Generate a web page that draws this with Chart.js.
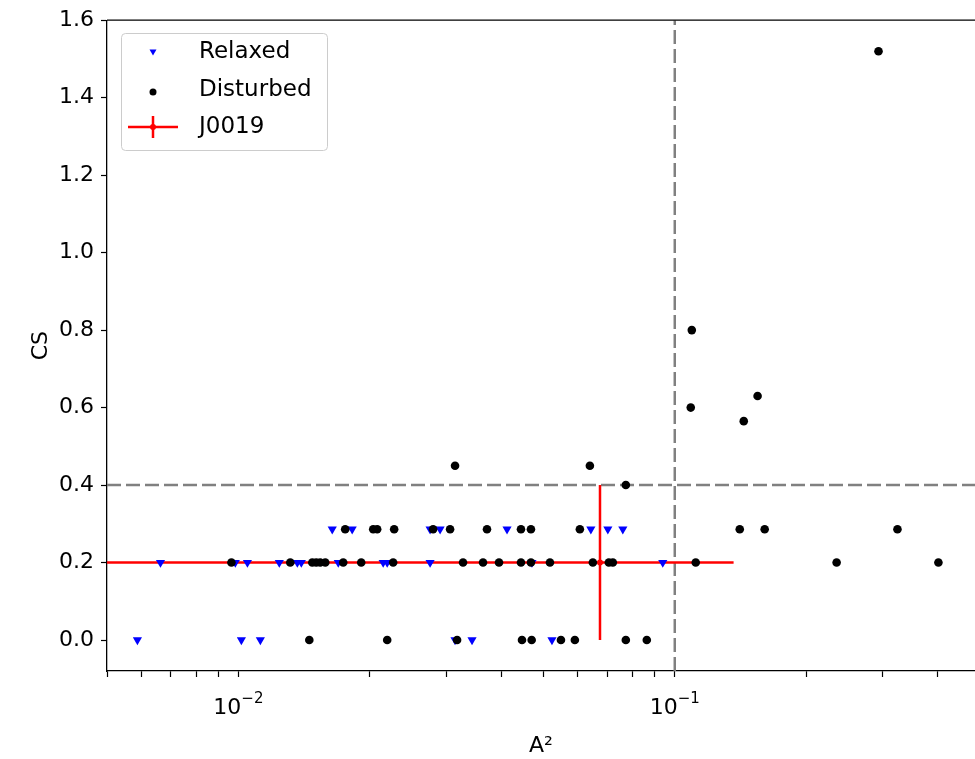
<!DOCTYPE html>
<html>
<head>
<meta charset="utf-8">
<script src="https://cdn.jsdelivr.net/npm/chart.js@4.4.1/dist/chart.umd.min.js"></script>
<style>
  html, body { margin: 0; padding: 0; background: #fff; overflow: hidden; }
  #wrap { width: 975px; height: 759px; }
</style>
</head>
<body>
<div id="wrap"><canvas id="c" width="975" height="759"></canvas></div>
<script>
// Relaxed clusters (blue down-triangles), grouped by CS row
const RELAXED_X = [
  0.00587, 0.01016, 0.01123, 0.03137, 0.03431, 0.05231,
  0.00663, 0.00984, 0.01049, 0.01241, 0.01365, 0.01394, 0.01694, 0.02147, 0.02193, 0.0275, 0.04707, 0.09387,
  0.01641, 0.01823, 0.0275, 0.02899, 0.04127, 0.06423, 0.07025, 0.07603
];
const RELAXED_Y = [
  0, 0, 0, 0, 0, 0,
  0.2, 0.2, 0.2, 0.2, 0.2, 0.2, 0.2, 0.2, 0.2, 0.2, 0.2, 0.2,
  0.286, 0.286, 0.286, 0.286, 0.286, 0.286, 0.286, 0.286
];
// Disturbed clusters (black dots)
const DISTURBED_X = [
  0.01454, 0.02193, 0.03171, 0.04466, 0.0470, 0.05485, 0.05903, 0.07724, 0.08628,
  0.00964, 0.01315, 0.01477, 0.01508, 0.0154, 0.01582, 0.01739, 0.01912, 0.02263, 0.03272, 0.03636,
  0.03956, 0.04442, 0.04682, 0.05176, 0.06491, 0.07062, 0.07212, 0.1117, 0.2349, 0.4019,
  0.01757, 0.02037, 0.0208, 0.02275, 0.02794, 0.03056, 0.03713, 0.04442, 0.04682, 0.06061, 0.1409, 0.1607, 0.3238,
  0.07724, 0.03137, 0.0639, 0.1088, 0.1094, 0.1439, 0.1548, 0.293
];
const DISTURBED_Y = [
  0, 0, 0, 0, 0, 0, 0, 0, 0,
  0.2, 0.2, 0.2, 0.2, 0.2, 0.2, 0.2, 0.2, 0.2, 0.2, 0.2,
  0.2, 0.2, 0.2, 0.2, 0.2, 0.2, 0.2, 0.2, 0.2, 0.2,
  0.286, 0.286, 0.286, 0.286, 0.286, 0.286, 0.286, 0.286, 0.286, 0.286, 0.286, 0.286, 0.286,
  0.4, 0.45, 0.45, 0.6, 0.8, 0.565, 0.63, 1.52
];
// J0019 with error bars
const J0019_X = [0.0674];
const J0019_Y = [0.2];
const J0019_XERR = [0.069];
const J0019_YERR = [0.2];
// dashed reference lines
const REF_X = 0.1;
const REF_Y = 0.4;

const X_MIN = 0.005, X_MAX = 0.4875;
const Y_MIN = -0.08, Y_MAX = 1.6;
const X_TICKS = [0.005, 0.006, 0.007, 0.008, 0.009, 0.01, 0.02, 0.03, 0.04, 0.05, 0.06, 0.07, 0.08, 0.09, 0.1, 0.2, 0.3, 0.4];
const X_EXP = { 0.01: '\u22122', 0.1: '\u22121' };
const Y_TICKS = [0, 0.2, 0.4, 0.6, 0.8, 1.0, 1.2, 1.4, 1.6];

const zip = (xs, ys) => xs.map((x, i) => ({ x, y: ys[i] }));

Chart.defaults.font.family = 'DejaVu Sans';
Chart.defaults.font.size = 22;
Chart.defaults.color = '#000';

const refAndErr = {
  id: 'refAndErr',
  beforeDatasetsDraw(chart) {
    const { ctx, chartArea: a, scales: { x, y } } = chart;
    ctx.save();
    ctx.beginPath(); ctx.rect(a.left, a.top, a.right - a.left, a.bottom - a.top); ctx.clip();
    // dashed lines
    ctx.strokeStyle = '#808080'; ctx.lineWidth = 2.5; ctx.setLineDash([14, 5]);
    const px = x.getPixelForValue(REF_X), py = y.getPixelForValue(REF_Y);
    ctx.beginPath(); ctx.moveTo(px, a.bottom); ctx.lineTo(px, a.top); ctx.stroke();
    ctx.beginPath(); ctx.moveTo(a.left, py); ctx.lineTo(a.right, py); ctx.stroke();
    // error bars
    ctx.setLineDash([]); ctx.strokeStyle = '#ff0000'; ctx.lineWidth = 2.5;
    J0019_X.forEach((xv, i) => {
      const lo = xv - J0019_XERR[i];
      const x0 = lo > 0 ? x.getPixelForValue(lo) : a.left;
      const x1 = x.getPixelForValue(xv + J0019_XERR[i]);
      const yc = y.getPixelForValue(J0019_Y[i]);
      ctx.beginPath(); ctx.moveTo(x0, yc); ctx.lineTo(x1, yc); ctx.stroke();
      const xc = x.getPixelForValue(xv);
      ctx.beginPath();
      ctx.moveTo(xc, y.getPixelForValue(J0019_Y[i] - J0019_YERR[i]));
      ctx.lineTo(xc, y.getPixelForValue(J0019_Y[i] + J0019_YERR[i]));
      ctx.stroke();
    });
    ctx.restore();
  },
  afterDraw(chart) {
    const { ctx, chartArea: a, scales: { x } } = chart;
    ctx.save();
    // top spine
    ctx.strokeStyle = '#000'; ctx.lineWidth = 1.3;
    ctx.beginPath(); ctx.moveTo(a.left, a.top); ctx.lineTo(a.right, a.top); ctx.stroke();
    // x tick labels with superscript exponents
    ctx.fillStyle = '#000'; ctx.textBaseline = 'alphabetic';
    Object.keys(X_EXP).forEach(k => {
      const cx = x.getPixelForValue(Number(k));
      ctx.font = '22px "DejaVu Sans"';
      const wb = ctx.measureText('10').width;
      ctx.font = '15px "DejaVu Sans"';
      const we = ctx.measureText(X_EXP[k]).width;
      const left = cx - (wb + we) / 2;
      ctx.font = '22px "DejaVu Sans"'; ctx.textAlign = 'left';
      ctx.fillText('10', left, a.bottom + 43);
      ctx.font = '15px "DejaVu Sans"';
      ctx.fillText(X_EXP[k], left + wb, a.bottom + 32);
    });
    // legend
    const bx = 121, by = 33, bw = 206, bh = 117;
    ctx.fillStyle = 'rgba(255,255,255,0.8)'; ctx.strokeStyle = '#cccccc'; ctx.lineWidth = 1;
    ctx.beginPath(); ctx.roundRect(bx + 0.5, by + 0.5, bw, bh, 4); ctx.fill(); ctx.stroke();
    const mx = 153, tx = 199, rows = [52, 90, 127];
    ctx.fillStyle = '#0000ff';
    ctx.beginPath(); ctx.moveTo(mx - 3.5, rows[0] - 2.5); ctx.lineTo(mx + 3.5, rows[0] - 2.5); ctx.lineTo(mx, rows[0] + 3.5); ctx.closePath(); ctx.fill();
    ctx.fillStyle = '#000';
    ctx.beginPath(); ctx.arc(mx, rows[1] + 2, 3.5, 0, Math.PI * 2); ctx.fill();
    ctx.strokeStyle = '#ff0000'; ctx.lineWidth = 2.5;
    ctx.beginPath(); ctx.moveTo(128, rows[2]); ctx.lineTo(178, rows[2]); ctx.stroke();
    ctx.beginPath(); ctx.moveTo(mx, rows[2] - 11); ctx.lineTo(mx, rows[2] + 11); ctx.stroke();
    ctx.fillStyle = '#ff0000'; ctx.beginPath(); ctx.arc(mx, rows[2], 3, 0, Math.PI * 2); ctx.fill();
    ctx.fillStyle = '#000'; ctx.font = '23px "DejaVu Sans"'; ctx.textBaseline = 'middle'; ctx.textAlign = 'left';
    ['Relaxed', 'Disturbed', 'J0019'].forEach((t, i) => ctx.fillText(t, tx, rows[i]));
    ctx.restore();
  }
};

new Chart(document.getElementById('c'), {
  type: 'scatter',
  data: {
    datasets: [
      { label: 'J0019', data: zip(J0019_X, J0019_Y), backgroundColor: '#ff0000', borderWidth: 0, pointRadius: 3, order: 3 },
      { label: 'Disturbed', data: zip(DISTURBED_X, DISTURBED_Y), backgroundColor: '#000000', borderWidth: 0, pointRadius: 4.3, order: 1 },
      { label: 'Relaxed', data: zip(RELAXED_X, RELAXED_Y), backgroundColor: '#0000ff', borderWidth: 0, pointStyle: 'triangle', rotation: 180, pointRadius: 5.3, order: 2 }
    ]
  },
  options: {
    responsive: false, animation: false,
    layout: { autoPadding: false, padding: { left: 0, top: 20, right: 0, bottom: 0 } },
    plugins: { legend: { display: false }, tooltip: { enabled: false } },
    scales: {
      x: {
        type: 'logarithmic', min: X_MIN, max: X_MAX,
        afterBuildTicks: s => { s.ticks = X_TICKS.map(v => ({ value: v })); },
        afterFit: s => { s.height = 88; s.paddingLeft = 0; s.paddingRight = 0; },
        ticks: { autoSkip: false, maxRotation: 0, padding: 10, callback: () => '' },
        grid: { drawOnChartArea: false, tickLength: 6, tickColor: '#000', tickWidth: 1.2 },
        border: { color: '#000', width: 1.3 },
        title: { display: true, text: 'A\u00B2', padding: { top: 0, bottom: 0 } }
      },
      y: {
        min: Y_MIN, max: Y_MAX,
        afterBuildTicks: s => { s.ticks = Y_TICKS.map(v => ({ value: v })); },
        afterFit: s => { s.width = 107; },
        ticks: { padding: 7, callback: v => v.toFixed(1) },
        grid: { drawOnChartArea: false, tickLength: 6, tickColor: '#000', tickWidth: 1.2 },
        border: { color: '#000', width: 1.3 },
        title: { display: true, text: 'CS', padding: { top: 28, bottom: 0 } }
      }
    }
  },
  plugins: [refAndErr]
});
</script>
</body>
</html>
